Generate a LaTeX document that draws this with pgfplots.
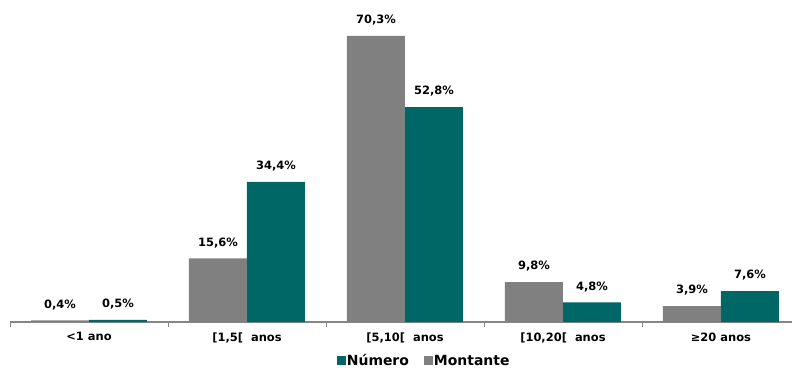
\documentclass[border=0pt]{standalone}
\usepackage{fontspec}
\setmainfont{DejaVu Sans}
\usepackage{pgfplots}
\pgfplotsset{compat=1.18}
\definecolor{tealbar}{RGB}{0,102,102}
\definecolor{graybar}{RGB}{128,128,128}
\definecolor{axisgray}{RGB}{134,134,134}
\begin{document}
\begin{tikzpicture}[x=1bp,y=1bp]
\useasboundingbox (0,0) rectangle (792,369);
\begin{axis}[
  at={(10bp,47bp)}, anchor=south west,
  scale only axis, width=782bp, height=322bp,
  xmin=-0.5, xmax=4.45, ymin=0, ymax=79.1,
  axis x line=bottom, axis y line=none,
  axis line style={axisgray, line width=1.3pt, -},
  ybar, bar width=0.367, bar shift=0pt,
  xtick={0,1,2,3,4},
  xticklabels={{<1 ano},{[1,5[\ \ anos},{[5,10[\ \ anos},{[10,20[\ \ anos},{≥20 anos}},
  major tick length=0pt,
  minor xtick={-0.5,0.5,1.5,2.5,3.5},
  minor tick length=5bp, tick align=outside,
  minor tick style={axisgray, line width=0.8pt},
  ticklabel style={font=\bfseries\fontsize{11.5}{13}\selectfont},
  xticklabel style={yshift=-7bp},
  /pgf/number format/assume math mode=true,
  /pgf/number format/.cd, fixed, precision=1, fixed zerofill, use comma,
  /pgfplots/.cd,
  nodes near coords={\pgfmathprintnumber{\pgfplotspointmeta}\%},
  every node near coord/.append style={font=\bfseries\fontsize{11.5}{13}\selectfont, black, yshift=7bp},
  legend columns=2,
  legend style={at={(0.529,-0.121)}, anchor=center, draw=none, fill=none,
    font=\bfseries\fontsize{14}{15}\selectfont,
    /tikz/every odd column/.append style={column sep=0bp},
    /tikz/every even column/.append style={column sep=14bp},
    nodes={inner sep=1bp}},
  legend image code/.code={\fill[#1] (1bp,-4.5bp) rectangle (10bp,4.5bp);},
]
\addplot[fill=tealbar, draw=none] coordinates {(0.1835,0.5) (1.1835,34.4) (2.1835,52.8) (3.1835,4.8) (4.1835,7.6)};
\addlegendentry{Número}
\addplot[fill=graybar, draw=none] coordinates {(-0.1835,0.4) (0.8165,15.6) (1.8165,70.3) (2.8165,9.8) (3.8165,3.9)};
\addlegendentry{Montante}
\end{axis}
\end{tikzpicture}
\end{document}
